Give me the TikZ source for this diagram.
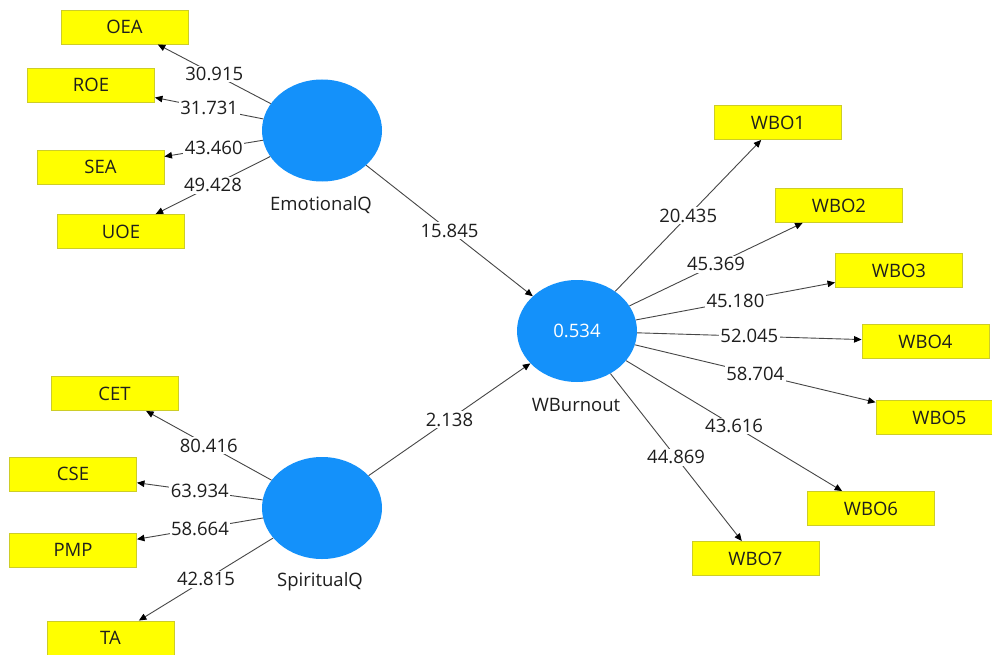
\documentclass[tikz,border=0pt]{standalone}
\usepackage{fontspec}
\setmainfont{Open Sans}
\usetikzlibrary{shapes.geometric,arrows.meta}
\definecolor{lvblue}{RGB}{20,145,250}
\definecolor{indyel}{RGB}{255,255,0}
\definecolor{indbrd}{RGB}{205,205,40}
\definecolor{txt}{RGB}{30,30,30}
\definecolor{edgec}{RGB}{70,70,70}
\begin{document}
\begin{tikzpicture}[x=1pt,y=-1pt,
  lv/.style={ellipse,fill=lvblue,minimum width=120pt,minimum height=102pt,inner sep=0pt,text=white,font=\fontsize{18.5}{22}\selectfont},
  ind/.style={rectangle,fill=indyel,draw=indbrd,line width=0.9pt,minimum width=127pt,minimum height=34pt,inner sep=0pt,text=txt,font=\fontsize{18.5}{22}\selectfont},
  lvlab/.style={text=txt,inner sep=0pt,font=\fontsize{18.5}{22}\selectfont},
  conn/.style={draw=edgec,line width=0.9pt,-{Triangle[length=7.5pt,width=6.5pt,color=black]}},
  val/.style={fill=white,inner sep=1.5pt,text=txt,font=\fontsize{18.5}{22}\selectfont}]
\useasboundingbox[fill=white] (0,0) rectangle (992,655);
% latent variables
\node[lv] (eq) at (322,130.5) {};
\node[lv] (sq) at (322,508) {};
\node[lv] (wb) at (577,331) {0.534};
\node[lvlab] (eqlab) at (321,205) {EmotionalQ};
\node[lvlab] (sqlab) at (320,582) {SpiritualQ};
\node[lvlab] (wblab) at (576,405) {WBurnout};
% indicators
\node[ind] (oea) at (124.5,27) {OEA};
\node[ind] (roe) at (91,85) {ROE};
\node[ind] (sea) at (100.5,167) {SEA};
\node[ind] (uoe) at (121,231.5) {UOE};
\node[ind] (cet) at (114.5,393.5) {CET};
\node[ind] (cse) at (73,474) {CSE};
\node[ind] (pmp) at (73,550) {PMP};
\node[ind] (ta) at (110.5,638) {TA};
\node[ind] (wbo1) at (778,122.5) {WBO1};
\node[ind] (wbo2) at (839,205.5) {WBO2};
\node[ind] (wbo3) at (899,270.5) {WBO3};
\node[ind] (wbo4) at (925.5,341.5) {WBO4};
\node[ind] (wbo5) at (939.5,417.5) {WBO5};
\node[ind] (wbo6) at (871,508.5) {WBO6};
\node[ind] (wbo7) at (755.5,558.5) {WBO7};
% connectors
\draw[conn] (eq) -- node[val] {30.915} (oea);
\draw[conn] (eq) -- node[val] {31.731} (roe);
\draw[conn] (eq) -- node[val] {43.460} (sea);
\draw[conn] (eq) -- node[val] {49.428} (uoe);
\draw[conn] (sq) -- node[val] {80.416} (cet);
\draw[conn] (sq) -- node[val] {63.934} (cse);
\draw[conn] (sq) -- node[val] {58.664} (pmp);
\draw[conn] (sq) -- node[val] {42.815} (ta);
\draw[conn] (eq) -- node[val] {15.845} (wb);
\draw[conn] (sq) -- node[val] {2.138} (wb);
\draw[conn] (wb) -- node[val] {20.435} (wbo1);
\draw[conn] (wb) -- node[val] {45.369} (wbo2);
\draw[conn] (wb) -- node[val] {45.180} (wbo3);
\draw[conn] (wb) -- node[val] {52.045} (wbo4);
\draw[conn] (wb) -- node[val] {58.704} (wbo5);
\draw[conn] (wb) -- node[val] {43.616} (wbo6);
\draw[conn] (wb) -- node[val] {44.869} (wbo7);
\end{tikzpicture}
\end{document}
